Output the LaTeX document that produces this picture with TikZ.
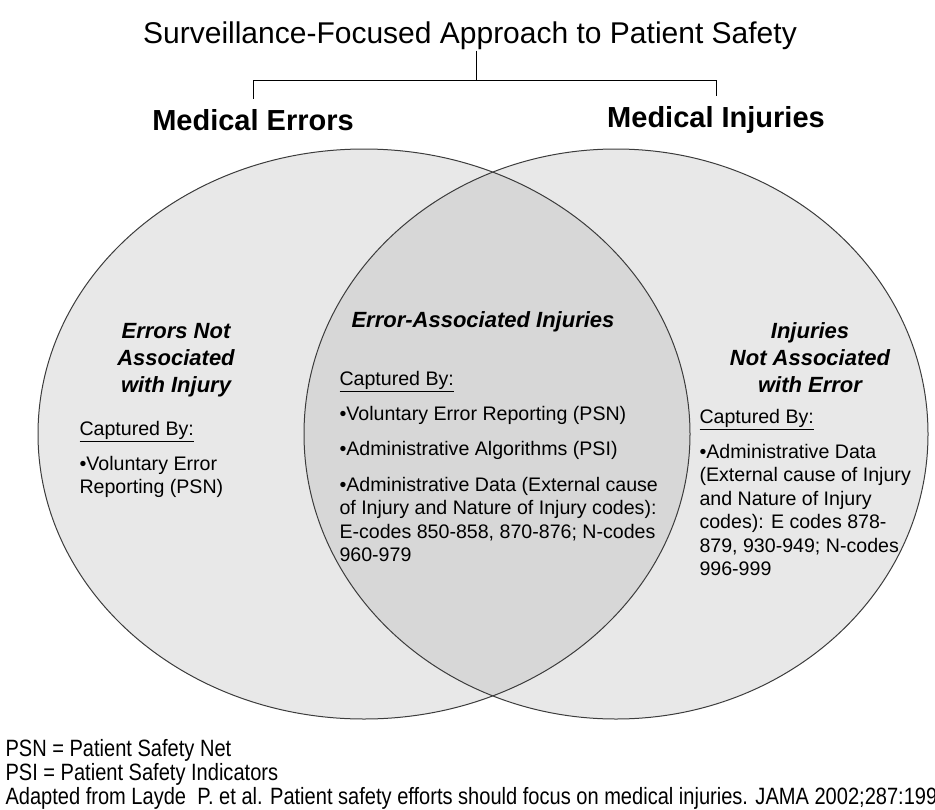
\documentclass[tikz,border=0pt]{standalone}
\usepackage{fontspec}
\setmainfont{Liberation Sans}
\newfontfamily\notefont[FakeStretch=0.85]{Liberation Sans}
\definecolor{setfill}{RGB}{232,232,232}
\definecolor{lensfill}{RGB}{215,215,215}
\definecolor{rimgray}{RGB}{60,60,60}

\tikzset{every picture/.style={line width=0.75pt}}
\tikzset{
  toptxt/.style={inner sep=0.75pt, font=\fontsize{22.5}{27}\selectfont},
  settxt/.style={inner sep=0.75pt, font=\fontsize{21.75}{26}\selectfont\bfseries},
  areahead/.style={inner sep=0.75pt, align=center, font=\fontsize{16.5}{20.25}\selectfont\bfseries\itshape},
  areabody/.style={inner sep=0.75pt, align=left, font=\fontsize{14.7}{17.55}\selectfont},
  notetxt/.style={inner sep=0.75pt, align=left, font=\notefont\fontsize{17.7}{18}\selectfont},
}

\begin{document}
\begin{tikzpicture}[x=0.75pt,y=0.75pt,yscale=-1,xscale=1]
    \useasboundingbox (0,0) rectangle (935,810);
    % the two sets and their overlap
    \fill[setfill] (364,434) ellipse (326 and 285);
    \fill[setfill] (616,434) ellipse (312 and 285);
    \begin{scope}
        \clip (364,434) ellipse (326 and 285);
        \fill[lensfill] (616,434) ellipse (312 and 285);
    \end{scope}
    \draw[rimgray] (364,434) ellipse (326 and 285);
    \draw[rimgray] (616,434) ellipse (312 and 285);

    \draw (470,43) node (title) [anchor=base][toptxt] {Surveillance-Focused Approach to Patient Safety};
    \draw (253,130) node (errors) [anchor=base][settxt] {Medical Errors};
    \draw (716,127) node (injuries) [anchor=base][settxt] {Medical Injuries};

    % bracket
    \coordinate (bar) at (476,80);
    \draw (title.south -| bar) -- (bar);
    \draw (errors.north |- bar) -- (injuries.north |- bar);
    \draw[shorten >=6pt] (errors.north |- bar) -- (errors.north);
    \draw[shorten >=6pt] (injuries.north |- bar) -- (injuries.north);

    % base anchor = last line
    \draw (176,392) node (errhead) [anchor=base][areahead] {Errors Not\\Associated\\with Injury};
    \draw (78,493.8) node (errbody) [anchor=base west][areabody] {\underline{Captured By:}\\[9pt]\textbullet Voluntary Error\\Reporting (PSN)};

    \draw (483,327) node (bothhead) [anchor=base][areahead] {Error-Associated Injuries};
    \draw (338,561.4) node (bothbody) [anchor=base west][areabody] {\underline{Captured By:}\\[9pt]\textbullet Voluntary Error Reporting (PSN)\\[9pt]\textbullet Administrative Algorithms (PSI)\\[9pt]\textbullet Administrative Data (External cause\\of Injury and Nature of Injury codes):\\E-codes 850-858, 870-876; N-codes\\960-979};

    \draw (810,392) node (injhead) [anchor=base][areahead] {Injuries\\Not Associated\\with Error};
    \draw (698,575.4) node (injbody) [anchor=base west][areabody] {\underline{Captured By:}\\[9pt]\textbullet Administrative Data\\(External cause of Injury\\and Nature of Injury\\codes): E codes 878-\\879, 930-949; N-codes\\996-999};

    \draw (4,804) node (notes) [anchor=base west][notetxt] {PSN = Patient Safety Net\\PSI = Patient Safety Indicators\\Adapted from Layde\ \ P. et al. Patient safety efforts should focus on medical injuries. JAMA 2002;287:199};
\end{tikzpicture}
\end{document}
